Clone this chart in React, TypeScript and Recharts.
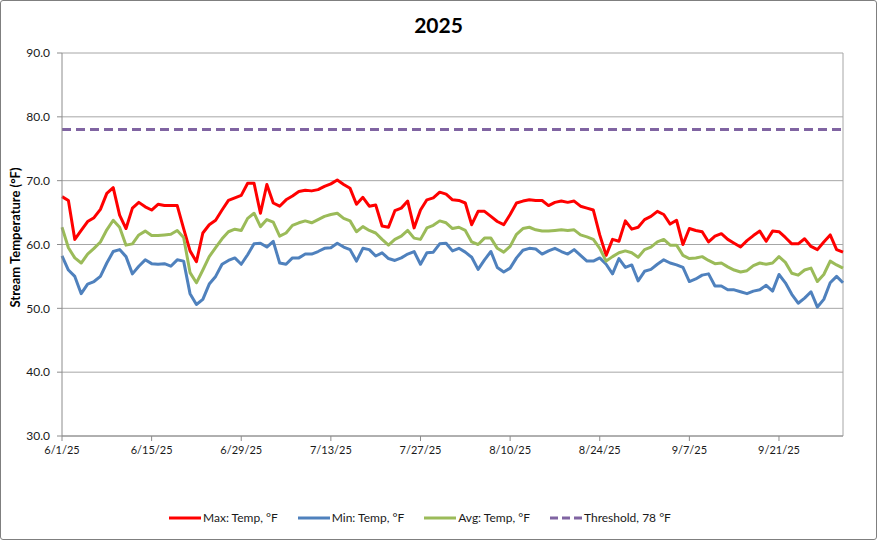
import { LineChart, Line, XAxis, YAxis, CartesianGrid, ReferenceLine } from 'recharts'

// daily stream temperatures, 6/1/25 .. 10/1/25
const maxTemp = [
  67.5, 66.9, 60.8, 62.2, 63.6, 64.2, 65.5, 68.0, 68.9, 64.6,
  62.5, 65.7, 66.6, 65.9, 65.4, 66.3, 66.1, 66.1, 66.1, 62.5,
  59.0, 57.3, 61.8, 63.1, 63.8, 65.4, 66.9, 67.3, 67.7, 69.6,
  69.6, 64.9, 69.4, 66.5, 66.0, 67.0, 67.6, 68.3, 68.5, 68.4,
  68.6, 69.1, 69.5, 70.1, 69.4, 68.8, 66.3, 67.4, 66.0, 66.2,
  62.9, 62.7, 65.3, 65.7, 66.8, 62.6, 65.4, 67.0, 67.3, 68.2,
  67.9, 67.0, 66.9, 66.5, 63.1, 65.2, 65.2, 64.4, 63.6, 63.1,
  64.7, 66.5, 66.8, 67.0, 66.9, 66.9, 66.1, 66.6, 66.8, 66.6,
  66.8, 66.0, 65.7, 65.4, 61.5, 58.3, 60.8, 60.5, 63.7, 62.4,
  62.7, 63.9, 64.4, 65.2, 64.7, 63.2, 63.8, 60.0, 62.5, 62.2,
  62.0, 60.4, 61.3, 61.7, 60.8, 60.2, 59.6, 60.6, 61.4, 62.1,
  60.5, 62.1, 62.0, 61.1, 60.1, 60.1, 60.9, 59.7, 59.2, 60.4,
  61.5, 59.2, 58.8,
]

const minTemp = [
  58.2, 56.0, 55.0, 52.3, 53.8, 54.2, 55.0, 57.1, 58.9, 59.2,
  58.1, 55.4, 56.6, 57.6, 57.0, 56.9, 57.0, 56.6, 57.6, 57.4,
  52.3, 50.6, 51.4, 53.8, 55.0, 56.9, 57.5, 57.9, 56.9, 58.4,
  60.1, 60.2, 59.6, 60.5, 57.1, 56.9, 57.9, 57.9, 58.5, 58.5,
  58.9, 59.4, 59.5, 60.2, 59.6, 59.2, 57.4, 59.4, 59.2, 58.2,
  58.7, 57.8, 57.5, 57.9, 58.5, 58.9, 56.9, 58.7, 58.8, 60.1,
  60.2, 59.0, 59.4, 58.8, 58.0, 56.1, 57.6, 58.9, 56.4, 55.7,
  56.3, 57.9, 59.1, 59.4, 59.3, 58.5, 59.0, 59.4, 58.9, 58.5,
  59.2, 58.3, 57.4, 57.4, 57.9, 56.9, 55.4, 57.8, 56.4, 56.8,
  54.3, 55.8, 56.1, 56.9, 57.6, 57.1, 56.8, 56.4, 54.2, 54.6,
  55.2, 55.4, 53.5, 53.5, 52.9, 52.9, 52.6, 52.3, 52.7, 52.9,
  53.6, 52.7, 55.3, 54.0, 52.2, 50.8, 51.6, 52.6, 50.2, 51.4,
  54.0, 55.0, 54.0,
]

const avgTemp = [
  62.7, 59.5, 57.9, 57.1, 58.5, 59.4, 60.4, 62.3, 63.8, 62.7,
  59.9, 60.1, 61.5, 62.1, 61.4, 61.4, 61.5, 61.6, 62.2, 61.1,
  55.6, 54.0, 56.0, 58.1, 59.5, 60.9, 62.0, 62.4, 62.2, 64.1,
  64.9, 62.8, 63.9, 63.5, 61.3, 61.8, 63.0, 63.4, 63.7, 63.4,
  63.9, 64.4, 64.7, 64.9, 64.1, 63.7, 62.0, 62.8, 62.2, 61.8,
  60.8, 59.9, 60.8, 61.3, 62.2, 61.0, 60.8, 62.6, 63.0, 63.7,
  63.4, 62.5, 62.7, 62.2, 60.4, 60.0, 61.0, 61.0, 59.4, 58.8,
  59.7, 61.6, 62.5, 62.7, 62.3, 62.1, 62.1, 62.2, 62.3, 62.2,
  62.3, 61.5, 61.2, 60.8, 59.4, 57.4, 58.1, 58.7, 59.0, 58.7,
  58.0, 59.2, 59.6, 60.4, 60.8, 59.9, 59.9, 58.3, 57.8, 57.9,
  58.1, 57.5, 57.0, 57.1, 56.5, 56.0, 55.7, 55.9, 56.7, 57.1,
  56.9, 57.1, 58.1, 57.2, 55.5, 55.2, 56.0, 56.3, 54.2, 55.3,
  57.4, 56.8, 56.3,
]

const THRESHOLD = 78
const xTickDays = [0, 14, 28, 42, 56, 70, 84, 98, 112]
const xTickLabels = ['6/1/25', '6/15/25', '6/29/25', '7/13/25', '7/27/25', '8/10/25', '8/24/25', '9/7/25', '9/21/25']
const yTicks = [30, 40, 50, 60, 70, 80, 90]

const RED = '#ff0000'
const BLUE = '#4f81bd'
const GREEN = '#9bbb59'
const PURPLE = '#8064a2'
const FONT = 'Lato, "Open Sans", sans-serif'

const legendItems = [
  { label: 'Max: Temp, °F', color: RED, dashed: false },
  { label: 'Min: Temp, °F', color: BLUE, dashed: false },
  { label: 'Avg: Temp, °F', color: GREEN, dashed: false },
  { label: `Threshold, ${THRESHOLD} °F`, color: PURPLE, dashed: true },
]

function YLabel(props: any) {
  const vb = props.viewBox || {}
  const cy = (vb.y ?? 53) + (vb.height ?? 383) / 2 - 7
  return (
    <text
      x={15}
      y={cy}
      transform={`rotate(-90, 15, ${cy})`}
      textAnchor="middle"
      dominantBaseline="central"
      fontFamily={FONT}
      fontWeight={700}
      fontSize={13}
      fill="#000"
    >
      Stream Temperature (°F)
    </text>
  )
}

export default function App() {
  const data = maxTemp.map((v, i) => ({
    day: i,
    max: v,
    min: minTemp[i],
    avg: avgTemp[i],
  }))
  const lastDay = data.length - 1

  return (
    <div style={{ position: 'absolute', left: 0, top: 0, width: 877, height: 540, background: '#fff', fontFamily: FONT }}>
      <div
        style={{
          position: 'absolute',
          left: 0,
          top: 12,
          width: 877,
          textAlign: 'center',
          fontSize: 21,
          fontWeight: 700,
          color: '#000',
        }}
      >
        2025
      </div>
      <LineChart width={877} height={540} data={data} margin={{ top: 53, right: 34, bottom: 74, left: 0 }}>
        <CartesianGrid horizontal vertical={false} stroke="#a6a6a6" strokeWidth={1} />
        <XAxis
          dataKey="day"
          type="number"
          domain={[0, lastDay]}
          ticks={xTickDays}
          interval={0}
          tickFormatter={(d) => xTickLabels[xTickDays.indexOf(d)] ?? ''}
          height={30}
          stroke="#8c8c8c"
          tickSize={5}
          tickMargin={5}
          tick={{ fill: '#1a1a1a', fontSize: 11, fontFamily: FONT }}
        />
        <YAxis
          domain={[30, 90]}
          ticks={yTicks}
          interval={0}
          tickFormatter={(v) => v.toFixed(1)}
          width={62}
          stroke="#8c8c8c"
          tickSize={5}
          tickMargin={7}
          tick={{ fill: '#1a1a1a', fontSize: 12, fontFamily: FONT }}
          label={{ content: YLabel }}
        />
        <ReferenceLine x={lastDay} stroke="#a6a6a6" strokeWidth={1} />
        <Line
          type="linear"
          dataKey="max"
          stroke={RED}
          strokeWidth={3}
          strokeLinejoin="round"
          dot={false}
          isAnimationActive={false}
        />
        <Line
          type="linear"
          dataKey="min"
          stroke={BLUE}
          strokeWidth={3}
          strokeLinejoin="round"
          dot={false}
          isAnimationActive={false}
        />
        <Line
          type="linear"
          dataKey="avg"
          stroke={GREEN}
          strokeWidth={3}
          strokeLinejoin="round"
          dot={false}
          isAnimationActive={false}
        />
        <ReferenceLine y={THRESHOLD} stroke={PURPLE} strokeWidth={3} strokeDasharray="9 5" />
      </LineChart>
      <div
        style={{
          position: 'absolute',
          left: 169,
          top: 510,
          display: 'flex',
          alignItems: 'center',
          fontSize: 12,
          color: '#1a1a1a',
          whiteSpace: 'nowrap',
        }}
      >
        {legendItems.map((it) => (
          <div key={it.label} style={{ display: 'flex', alignItems: 'center', marginRight: 20 }}>
            <svg width={32} height={10} style={{ marginRight: 2 }}>
              <line
                x1={0}
                y1={5}
                x2={32}
                y2={5}
                stroke={it.color}
                strokeWidth={3}
                strokeDasharray={it.dashed ? '8 4' : undefined}
              />
            </svg>
            <span>{it.label}</span>
          </div>
        ))}
      </div>
      <div
        style={{
          position: 'absolute',
          left: 0,
          top: 0,
          width: 877,
          height: 540,
          boxSizing: 'border-box',
          border: '1px solid #7f7f7f',
          borderRadius: 3,
          pointerEvents: 'none',
        }}
      />
    </div>
  )
}
